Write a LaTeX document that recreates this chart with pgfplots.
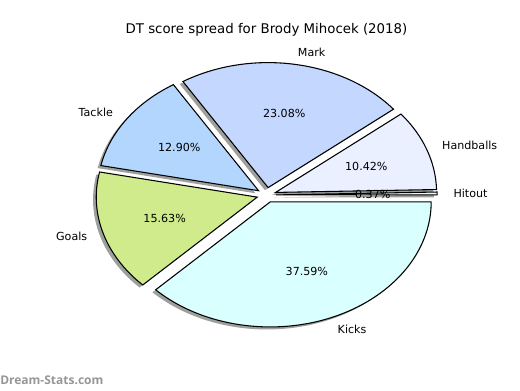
\documentclass[border=0pt]{standalone}
\usepackage{pgfplots}
\usepackage{pgfplotstable}
\pgfplotsset{compat=1.18}
\usepackage{fontspec}
\setmainfont{DejaVu Sans}
\newfontfamily\wmfont{Open Sans}
\definecolor{col0}{RGB}{236,244,252}
\definecolor{col1}{RGB}{234,240,255}
\definecolor{col2}{RGB}{196,216,255}
\definecolor{col3}{RGB}{179,214,255}
\definecolor{col4}{RGB}{207,235,139}
\definecolor{col5}{RGB}{217,255,255}
\definecolor{shad}{RGB}{158,160,158}
\definecolor{wmgray}{RGB}{150,150,150}

\pgfplotstableread{
name pct
Hitout 0.37
Handballs 10.42
Mark 23.08
Tackle 12.90
Goals 15.63
Kicks 37.59
}\piedata

\def\cx{266.5}\def\cy{195}\def\rx{161}\def\ry{125}\def\expl{0.06}%
\xdef\cum{0}%
\foreach \i in {0,...,5}{%
  \pgfplotstablegetelem{\i}{pct}\of\piedata
  \expandafter\xdef\csname pP\i\endcsname{\pgfplotsretval}%
  \pgfmathsetmacro\s{\cum/99.99*360}%
  \pgfmathsetmacro\newcum{\cum+\pgfplotsretval}%
  \xdef\cum{\newcum}%
  \pgfmathsetmacro\e{\cum/99.99*360}%
  \pgfmathsetmacro\m{(\s+\e)/2}%
  \pgfmathsetmacro\ex{\cx+\expl*\rx*cos(\m)}%
  \pgfmathsetmacro\ey{\cy+\expl*\ry*sin(\m)}%
  \pgfmathsetmacro\ax{\ex+\rx*cos(\s)}%
  \pgfmathsetmacro\ay{\ey+\ry*sin(\s)}%
  \pgfmathsetmacro\lx{\ex+1.1*\rx*cos(\m)}%
  \pgfmathsetmacro\ly{\ey+1.1*\ry*sin(\m)}%
  \pgfmathsetmacro\px{\ex+0.6*\rx*cos(\m)}%
  \pgfmathsetmacro\py{\ey+0.6*\ry*sin(\m)}%
  \pgfmathparse{cos(\m)>0?1:0}%
  \ifdim\pgfmathresult pt>0.5pt \gdef\anc{west}\else\gdef\anc{east}\fi
  \expandafter\xdef\csname pAnc\i\endcsname{\anc}%
  \expandafter\xdef\csname pS\i\endcsname{\s}%
  \expandafter\xdef\csname pE\i\endcsname{\e}%
  \expandafter\xdef\csname pEX\i\endcsname{\ex}%
  \expandafter\xdef\csname pEY\i\endcsname{\ey}%
  \expandafter\xdef\csname pAX\i\endcsname{\ax}%
  \expandafter\xdef\csname pAY\i\endcsname{\ay}%
  \expandafter\xdef\csname pLX\i\endcsname{\lx}%
  \expandafter\xdef\csname pLY\i\endcsname{\ly}%
  \expandafter\xdef\csname pPX\i\endcsname{\px}%
  \expandafter\xdef\csname pPY\i\endcsname{\py}%
  \pgfplotstablegetelem{\i}{name}\of\piedata
  \expandafter\xdef\csname pN\i\endcsname{\pgfplotsretval}%
}%

\begin{document}%
\begin{tikzpicture}
\begin{axis}[
  scale only axis, width=390pt, height=292.5pt,
  xmin=0, xmax=520, ymin=0, ymax=390,
  hide axis, clip=false]
\coordinate (bl) at (rel axis cs:0,0);
\coordinate (tr) at (rel axis cs:1,1);
% shadows
\pgfplotsinvokeforeach{0,...,5}{
  \fill[shad, xshift=-2.4pt, yshift=-1.9pt]
    (axis cs:\csname pEX#1\endcsname,\csname pEY#1\endcsname) --
    (axis cs:\csname pAX#1\endcsname,\csname pAY#1\endcsname)
    arc[start angle=\csname pS#1\endcsname, end angle=\csname pE#1\endcsname, x radius=120.75pt, y radius=93.75pt] -- cycle;
}
% wedges
\pgfplotsinvokeforeach{0,...,5}{
  \filldraw[fill=col#1, draw=black, line width=0.8pt, line join=miter]
    (axis cs:\csname pEX#1\endcsname,\csname pEY#1\endcsname) --
    (axis cs:\csname pAX#1\endcsname,\csname pAY#1\endcsname)
    arc[start angle=\csname pS#1\endcsname, end angle=\csname pE#1\endcsname, x radius=120.75pt, y radius=93.75pt] -- cycle;
}
% labels
\pgfplotsinvokeforeach{0,...,5}{
  \node[anchor=\csname pAnc#1\endcsname, inner sep=0pt, font=\fontsize{8.33pt}{10pt}\selectfont]
    at (axis cs:\csname pLX#1\endcsname,\csname pLY#1\endcsname) {\csname pN#1\endcsname};
  \node[anchor=center, inner sep=0pt, font=\fontsize{8.33pt}{10pt}\selectfont]
    at (axis cs:\csname pPX#1\endcsname,\csname pPY#1\endcsname) {\csname pP#1\endcsname\%};
}
\node[anchor=center, inner sep=0pt, font=\fontsize{10pt}{12pt}\selectfont] at (axis cs:266.5,360) {DT score spread for Brody Mihocek (2018)};
\node[anchor=west, inner sep=0pt, text=wmgray, font=\wmfont\bfseries\fontsize{9pt}{11pt}\selectfont] at (axis cs:0,10) {Dream-Stats.com};
\end{axis}
\pgfresetboundingbox
\path (bl) rectangle (tr);
\end{tikzpicture}%
\end{document}
